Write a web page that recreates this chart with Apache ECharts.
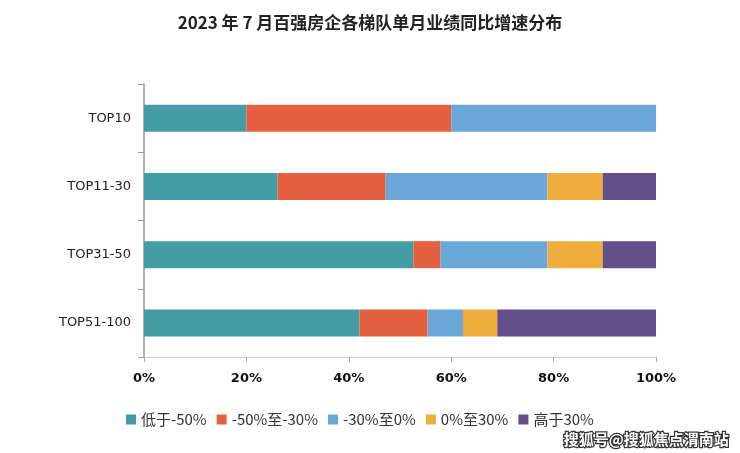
<!DOCTYPE html>
<html><head><meta charset="utf-8">
<script src="https://cdn.jsdelivr.net/npm/echarts@6/dist/echarts.min.js"></script>
<style>html,body{margin:0;padding:0;background:#fff}#c{width:740px;height:453px}</style>
</head><body><div id="c"></div>
<script>
const categories = ['TOP10', 'TOP11-30', 'TOP31-50', 'TOP51-100'];
const seriesNames = ['低于-50%', '-50%至-30%', '-30%至0%', '0%至30%', '高于30%'];
const below50 = [20.0, 26.1, 52.6, 42.1];
const m50to30 = [40.0, 21.1, 5.3, 13.3];
const m30to0 = [40.0, 31.6, 20.9, 6.9];
const p0to30 = [0, 10.8, 10.8, 6.7];
const above30 = [0, 10.4, 10.4, 31.0];
const xTicks = [0, 20, 40, 60, 80, 100];
const colors = ['#449DA4', '#E4603E', '#68A7D8', '#EFAD3C', '#634D8A'];
const values = [below50, m50to30, m30to0, p0to30, above30];

const chart = echarts.init(document.getElementById('c'));
chart.setOption({
  animation: false,
  title: {
    text: '2023 年 7 月百强房企各梯队单月业绩同比增速分布',
    left: 'center', top: 9,
    textStyle: { fontFamily: 'Noto Sans CJK SC', fontSize: 17, fontWeight: 'bold', color: '#222' }
  },
  grid: { left: 144, right: 84, top: 84, bottom: 96 },
  legend: {
    left: 121, top: 407,
    itemWidth: 10, itemHeight: 10, itemGap: 10,
    icon: 'rect',
    textStyle: { fontFamily: 'Noto Sans CJK SC', fontSize: 15, color: '#333' },
    data: seriesNames
  },
  xAxis: {
    type: 'value', min: 0, max: 100, interval: 20,
    axisLine: { show: true, lineStyle: { color: '#ccc' } },
    axisTick: { show: true, length: 5, lineStyle: { color: '#aaa' } },
    splitLine: { show: false },
    axisLabel: { formatter: v => xTicks.includes(v) ? v + '%' : '', margin: 15,
      fontFamily: 'DejaVu Sans', fontSize: 13, fontWeight: 'bold', color: '#111' }
  },
  yAxis: {
    type: 'category', data: categories, inverse: true,
    axisLine: { show: true, lineStyle: { color: '#999', width: 1.5 } },
    axisTick: { show: true, length: 6, lineStyle: { color: '#999' } },
    axisLabel: { margin: 13, fontFamily: 'DejaVu Sans', fontSize: 13, color: '#222' }
  },
  color: colors,
  series: seriesNames.map((n, i) => ({
    name: n, type: 'bar', stack: 'total', barWidth: 27,
    itemStyle: { color: colors[i] },
    data: values[i]
  })),
  graphic: [{
    type: 'text', right: 10, top: 431,
    style: { text: '搜狐号@搜狐焦点渭南站', fontFamily: 'Noto Sans CJK SC', fontSize: 15, fontWeight: 'bold',
      fill: '#fff', stroke: '#333', lineWidth: 2.5 }
  }]
});
</script></body></html>
